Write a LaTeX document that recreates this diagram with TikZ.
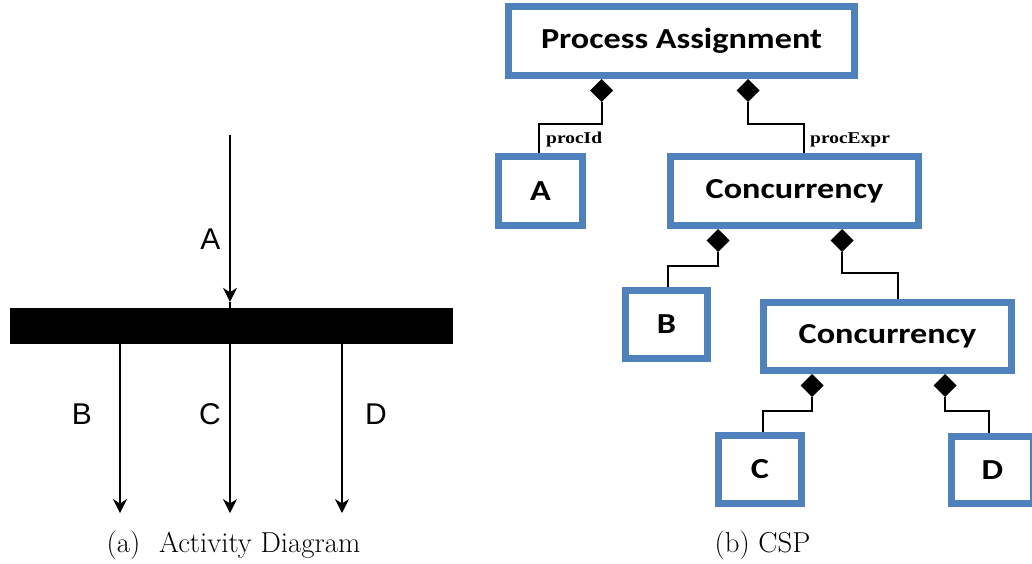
\documentclass[tikz,border=0pt]{standalone}
\usepackage{fontspec}
\usetikzlibrary{arrows.meta,shapes.geometric}
\newfontfamily\arialf{Liberation Sans}
\newfontfamily\calf{Carlito}
\newfontfamily\timesf{Liberation Serif}
\definecolor{boxblue}{HTML}{4F81BD}
\newcommand{\boxtxt}[1]{\scalebox{1.18}[1]{\calf\bfseries\fontsize{29}{29}\selectfont #1}}
\newcommand{\roletxt}[1]{\scalebox{1.18}[1]{\timesf\bfseries\fontsize{16.5}{16.5}\selectfont #1}}
\begin{document}
\begin{tikzpicture}[x=1pt,y=-1pt,
  arr/.style={line width=1.4pt,-{Stealth[length=14pt,width=14pt,inset=4.5pt]}},
  lbl/.style={font=\arialf\fontsize{30}{30}\selectfont,anchor=base,inner sep=0},
  cbox/.style={draw=boxblue,line width=7pt,fill=white,inner sep=0},
  dia/.style={diamond,fill=black,draw=none,inner sep=0,outer sep=0,minimum width=23pt,minimum height=23pt,anchor=north},
  conn/.style={line width=2pt,black},
  role/.style={anchor=base west,inner sep=0},
  captxt/.style={font=\fontsize{28.8}{28.8}\selectfont,anchor=base,inner sep=0}]
\clip (0,0) rectangle (1032,563);
\useasboundingbox (0,0) rectangle (1032,563);
% (a) Activity diagram
\node[fill=black,minimum width=443pt,minimum height=36pt,inner sep=0] (bar) at (231.5,326) {};
\coordinate (a0) at (230,135);
\coordinate (bEnd) at (120,513);
\coordinate (cEnd) at (230,513);
\coordinate (dEnd) at (342,513);
\draw[arr] (a0) -- ([yshift=6pt]a0 |- bar.north);
\draw[arr] (bEnd |- bar.south) -- (bEnd);
\draw[arr] (cEnd |- bar.south) -- (cEnd);
\draw[arr] (dEnd |- bar.south) -- (dEnd);
\draw[line width=1.4pt] ([yshift=6pt]a0 |- bar.north) -- (a0 |- bar.north);
\node[lbl] (la) at (210.5,249) {A};
\node[lbl] (lb) at (82,424) {B};
\node[lbl] (lc) at (210,424) {C};
\node[lbl] (ld) at (376,424) {D};
\node[captxt] (capa) at (233.5,552) {(a)\hspace{0.65em}Activity Diagram};
% (b) CSP
\node[cbox,minimum width=346pt,minimum height=69pt] (PA) at (681.5,41) {\boxtxt{Process Assignment}};
\node[cbox,minimum width=84pt,minimum height=69pt] (A) at (540.5,191) {\boxtxt{A}};
\node[cbox,minimum width=248pt,minimum height=69pt] (C1) at (794.5,191) {\boxtxt{Concurrency}};
\node[cbox,minimum width=82pt,minimum height=68pt] (B) at (666.5,324.5) {\boxtxt{B}};
\node[cbox,minimum width=248pt,minimum height=68pt] (C2) at (887.5,336.5) {\boxtxt{Concurrency}};
\node[cbox,minimum width=83pt,minimum height=68pt] (C) at (760,469.5) {\boxtxt{C}};
\node[cbox,minimum width=82pt,minimum height=67pt] (D) at (992.5,470) {\boxtxt{D}};
\node[dia] (d1) at (601.5,79) {};
\node[dia] (d2) at (748,79) {};
\node[dia] (d3) at (718,229) {};
\node[dia] (d4) at (842,229) {};
\node[dia] (d5) at (812,374) {};
\node[dia] (d6) at (945,374) {};
\draw[conn] (d1.south) -- ++(0,22) -| ([xshift=-1.5pt]A.north);
\draw[conn] (d2.south) -- ++(0,22) -| ([xshift=9.5pt]C1.north);
\draw[conn] (d3.south) -- ++(0,14) -| ([xshift=1.5pt]B.north);
\draw[conn] (d4.south) -- ++(0,21) -| ([xshift=10.5pt]C2.north);
\draw[conn] (d5.south) -- ++(0,14) -| ([xshift=3pt]C.north);
\draw[conn] (d6.south) -- ++(0,14) -| ([xshift=-3.5pt]D.north);
\node[role] (r1) at (546,143) {\roletxt{procId}};
\node[role] (r2) at (810,143) {\roletxt{procExpr}};
\node[captxt] (capb) at (762.5,552) {(b) CSP};
\end{tikzpicture}
\end{document}
